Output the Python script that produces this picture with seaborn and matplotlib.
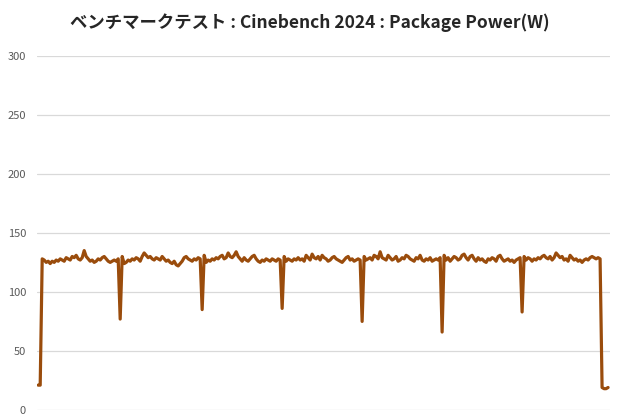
import pandas as pd
import matplotlib.pyplot as plt
import seaborn as sns

# Package power samples (W)
start = [21, 21]
seg1 = [128, 127, 125, 126, 124, 126, 125, 127, 126, 128, 127, 126, 129, 128, 127,
        130, 129, 131, 128, 127, 129, 135, 130, 128, 126, 127, 125, 126, 128, 127,
        129, 130, 128, 126, 125, 126, 127, 126, 128]
seg2 = [130, 124, 125, 127, 126, 128, 127, 129, 128, 126, 130, 133, 131, 129, 130,
        128, 127, 129, 128, 127, 130, 128, 126, 127, 125, 124, 126, 123, 122, 124,
        126, 129, 130, 128, 127, 126, 128, 127, 129, 128]
seg3 = [131, 125, 127, 126, 128, 127, 129, 128, 130, 131, 128, 129, 133, 130, 129,
        131, 134, 130, 128, 126, 129, 127, 126, 128, 130, 131, 128, 126, 125, 127,
        126, 128, 127, 126, 128, 127, 126, 128, 127]
seg4 = [130, 126, 128, 127, 126, 128, 127, 129, 127, 128, 126, 131, 129, 127, 132,
        129, 128, 130, 127, 131, 129, 128, 126, 127, 129, 130, 128, 127, 126, 125,
        127, 129, 130, 127, 128, 126, 127, 128, 127]
seg5 = [130, 127, 128, 129, 127, 131, 130, 128, 134, 129, 128, 127, 131, 129, 127,
        128, 130, 126, 127, 129, 128, 131, 130, 128, 127, 126, 129, 128, 131, 127,
        126, 128, 127, 129, 126, 127, 128, 127, 129]
seg6 = [131, 127, 129, 126, 128, 130, 129, 127, 128, 131, 132, 129, 127, 130, 131,
        128, 126, 129, 127, 128, 126, 125, 128, 127, 129, 128, 126, 130, 131, 128,
        126, 127, 128, 126, 127, 125, 127, 128, 129]
seg7 = [130, 127, 129, 128, 126, 128, 127, 129, 128, 130, 131, 129, 128, 130, 127,
        129, 133, 131, 129, 130, 127, 128, 126, 131, 129, 127, 128, 126, 127, 125,
        127, 128, 127, 129, 130, 129, 128, 129, 128]
dips = [77, 85, 86, 75, 66, 83]
end = [19, 18, 18, 19]

power = (start + seg1 + [dips[0]] + seg2 + [dips[1]] + seg3 + [dips[2]] + seg4
         + [dips[3]] + seg5 + [dips[4]] + seg6 + [dips[5]] + seg7 + end)
df = pd.DataFrame({"t": range(len(power)), "power": power})

sns.set_style("white")
plt.rcParams["font.family"] = ["Noto Sans CJK JP", "DejaVu Sans"]

fig = plt.figure(figsize=(6.2, 4.2), dpi=100)
ax = fig.add_axes([0.06, 0.024, 0.924, 0.843])
sns.lineplot(data=df, x="t", y="power", ax=ax, color="#9A4C0C", linewidth=2.3)

ax.set_xlim(-0.5, len(power))
ax.set_ylim(0, 300)
ax.set_yticks(range(0, 301, 50))
ax.yaxis.grid(True, color="#d9d9d9", linewidth=0.9)
ax.set_axisbelow(True)
ax.set_xticks([])
ax.set_xlabel("")
ax.set_ylabel("")
ax.tick_params(axis="y", length=0, pad=8, labelsize=8, labelcolor="#595959")
for s in ax.spines.values():
    s.set_visible(False)

fig.suptitle("ベンチマークテスト : Cinebench 2024 : Package Power(W)",
             x=0.5, y=0.968, fontsize=12.5, fontweight="bold")

plt.savefig("out.png", dpi=100)
